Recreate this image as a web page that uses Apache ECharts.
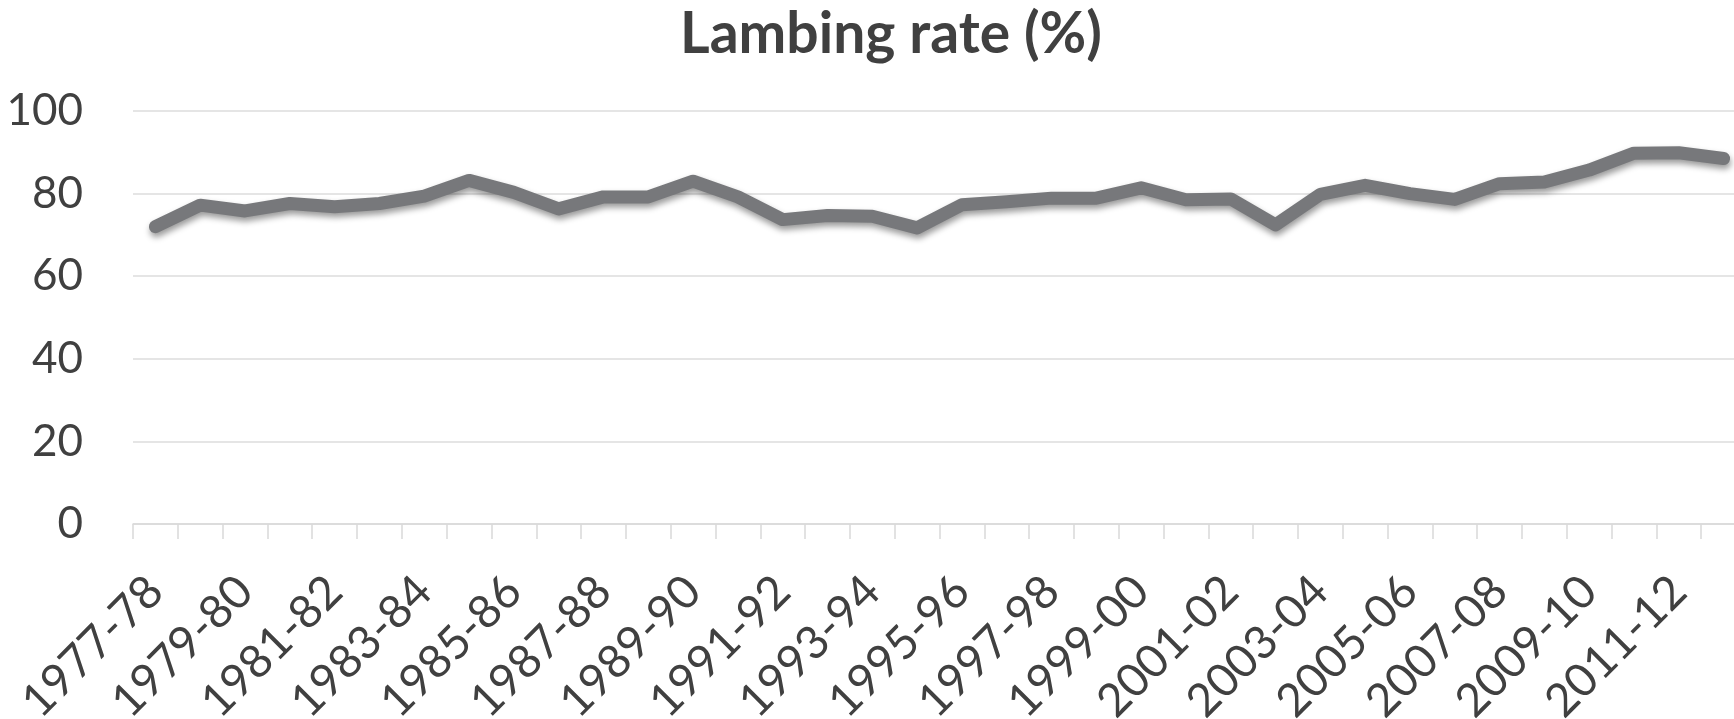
<!DOCTYPE html>
<html>
<head>
<meta charset="utf-8">
<script src="https://cdn.jsdelivr.net/npm/echarts@6/dist/echarts.min.js"></script>
<style>
html,body{margin:0;padding:0;background:#fff;}
#chart{width:1734px;height:719px;}
</style>
</head>
<body>
<div id="chart"></div>
<script>
const categories = ["1977-78","1978-79","1979-80","1980-81","1981-82","1982-83","1983-84","1984-85","1985-86","1986-87","1987-88","1988-89","1989-90","1990-91","1991-92","1992-93","1993-94","1994-95","1995-96","1996-97","1997-98","1998-99","1999-00","2000-01","2001-02","2002-03","2003-04","2004-05","2005-06","2006-07","2007-08","2008-09","2009-10","2010-11","2011-12","2012-13"];
const lambingRate = [72.0,77.2,75.8,77.6,76.8,77.6,79.4,83.2,80.3,76.3,79.2,79.2,83.0,79.2,73.7,74.7,74.5,71.7,77.3,78.0,78.9,78.9,81.4,78.5,78.7,72.4,79.8,82.0,80.0,78.6,82.4,82.8,85.7,89.8,89.9,88.5];
const titleText = "Lambing rate (%)";

const chart = echarts.init(document.getElementById('chart'), null, {renderer:'canvas'});
const FONT = 'Lato, "Noto Sans", sans-serif';
chart.setOption({
  animation: false,
  backgroundColor: '#ffffff',
  title: {
    text: titleText,
    left: 891,
    top: 6,
    padding: 0,
    textAlign: 'center',
    textStyle: {fontFamily: FONT, fontWeight: 'bold', fontSize: 57, color: '#404040'}
  },
  grid: {left: 133, right: -12, top: 111, bottom: 195, containLabel: false, outerBoundsMode: 'none'},
  xAxis: {
    type: 'category',
    data: categories,
    boundaryGap: true,
    axisLine: {show: true, lineStyle: {color: '#d9d9d9', width: 1.5}},
    axisTick: {show: true, interval: 0, length: 15, lineStyle: {color: '#d9d9d9', width: 1.5}},
    axisLabel: {interval: 1, rotate: 45, margin: 60, fontFamily: FONT, fontSize: 46, color: '#404040'},
    splitLine: {show: false}
  },
  yAxis: {
    type: 'value',
    min: 0, max: 100, interval: 20,
    axisLine: {show: false},
    axisTick: {show: false},
    axisLabel: {margin: 50, fontFamily: FONT, fontSize: 44, color: '#404040'},
    splitLine: {lineStyle: {color: '#dcdcdc', width: 1.5}}
  },
  series: [{
    type: 'line',
    data: lambingRate,
    showSymbol: false,
    symbol: 'none',
    lineStyle: {
      color: '#77787b', width: 13, cap: 'round', join: 'round',
      shadowColor: 'rgba(0,0,0,0.4)', shadowBlur: 6, shadowOffsetX: 1, shadowOffsetY: 4
    },
    itemStyle: {color: '#77787b'}
  }]
});
</script>
</body>
</html>
